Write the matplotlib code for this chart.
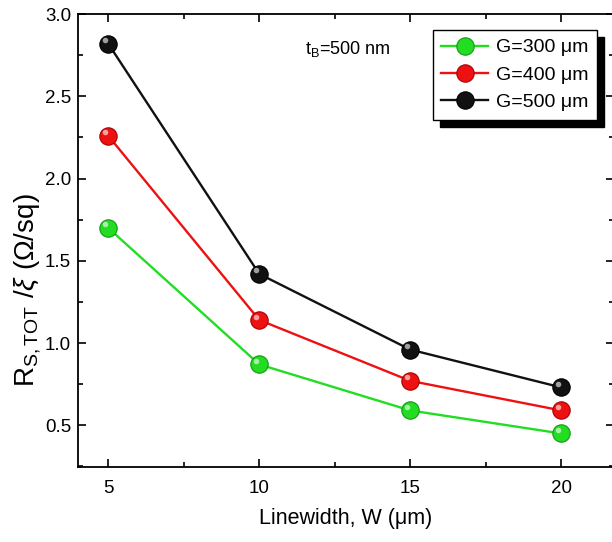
import matplotlib.pyplot as plt
from matplotlib.ticker import MultipleLocator
from matplotlib import transforms

plt.rcParams['font.family'] = ['Liberation Sans', 'DejaVu Sans']
plt.rcParams['mathtext.fontset'] = 'custom'
plt.rcParams['mathtext.rm'] = 'Liberation Sans'
plt.rcParams['mathtext.it'] = 'Liberation Sans:italic'

linewidth = [5, 10, 15, 20]
g300 = [1.70, 0.87, 0.59, 0.45]
g400 = [2.26, 1.14, 0.77, 0.59]
g500 = [2.82, 1.42, 0.96, 0.73]
labels = ['G=300 \u03bcm', 'G=400 \u03bcm', 'G=500 \u03bcm']
colors = ['#22dd22', '#ee1111', '#111111']
edges = ['#119911', '#aa0000', '#000000']

fig = plt.figure(figsize=(6.12, 5.42), dpi=100)
ax = fig.add_axes([0.1275, 0.138, 0.876, 0.836])

for vals, lab, c, e in zip([g300, g400, g500], labels, colors, edges):
    ax.plot(linewidth, vals, '-o', color=c, lw=1.7, ms=12.5,
            markerfacecolor=c, markeredgecolor=e, markeredgewidth=0.8, label=lab)
    # little highlight to fake the shaded balls
    off = transforms.offset_copy(ax.transData, fig=fig, x=-2.5, y=2.5, units='points')
    ax.plot(linewidth, vals, 'o', ms=4, color='white', alpha=0.6,
            markeredgewidth=0, transform=off)

ax.set_xlim(4, 21.75)
ax.set_ylim(0.245, 3.0)
ax.xaxis.set_major_locator(MultipleLocator(5))
ax.xaxis.set_minor_locator(MultipleLocator(2.5))
ax.yaxis.set_major_locator(MultipleLocator(0.5))
ax.yaxis.set_minor_locator(MultipleLocator(0.25))
ax.tick_params(which='both', direction='in', top=True, right=True, labelsize=13.5, width=1.2)
ax.tick_params(which='major', length=6)
ax.tick_params(axis='x', which='major', pad=9)
ax.tick_params(axis='y', which='major', pad=5)
ax.tick_params(which='minor', length=3.5)
for s in ax.spines.values():
    s.set_linewidth(1.3)

ax.set_xlabel('Linewidth, W (\u03bcm)', fontsize=15.5, labelpad=8)
ax.set_ylabel(r'R$_{\rm S,TOT}$ /$\xi$ ($\Omega$/sq)', fontsize=20)
ax.yaxis.set_label_coords(-0.066, 0.39)

ax.text(11.5, 2.79, r't$_{\rm B}$=500 nm', fontsize=13, va='center')

leg = ax.legend(loc='upper right', bbox_to_anchor=(0.9755, 0.9446),
                bbox_transform=fig.transFigure, borderaxespad=0, fontsize=14,
                fancybox=False, edgecolor='black', framealpha=1,
                shadow={'color': 'black', 'alpha': 1, 'ox': 5, 'oy': -5},
                handlelength=2.4, handletextpad=0.4, borderpad=0.45, labelspacing=0.5)
leg.get_frame().set_linewidth(1.0)

fig.savefig('out.png', dpi=100)
